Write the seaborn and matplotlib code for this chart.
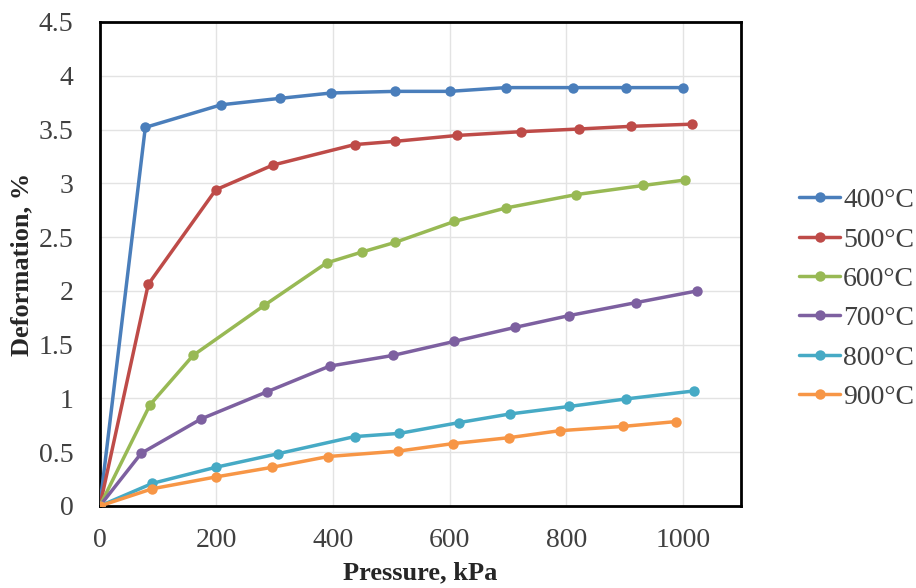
import matplotlib
matplotlib.use("Agg")
import matplotlib.pyplot as plt
import seaborn as sns
import pandas as pd

# Data
p400 = [0, 78, 208, 309, 397, 507, 600, 697, 812, 902, 1000]
d400 = [0, 3.52, 3.73, 3.79, 3.84, 3.855, 3.855, 3.89, 3.89, 3.89, 3.89]
p500 = [0, 83, 199, 297, 437, 506, 613, 722, 822, 912, 1016]
d500 = [0, 2.06, 2.94, 3.17, 3.36, 3.39, 3.445, 3.48, 3.505, 3.53, 3.55]
p600 = [0, 86, 160, 282, 389, 449, 506, 608, 696, 817, 932, 1003]
d600 = [0, 0.94, 1.40, 1.865, 2.26, 2.36, 2.45, 2.645, 2.77, 2.895, 2.98, 3.03]
p700 = [0, 71, 174, 286, 394, 503, 608, 712, 805, 919, 1025]
d700 = [0, 0.49, 0.81, 1.06, 1.30, 1.40, 1.53, 1.66, 1.77, 1.89, 2.00]
p800 = [0, 90, 199, 305, 437, 514, 616, 703, 805, 902, 1020]
d800 = [0, 0.21, 0.36, 0.485, 0.645, 0.675, 0.775, 0.855, 0.925, 0.995, 1.07]
p900 = [0, 90, 199, 296, 392, 512, 606, 702, 789, 898, 989]
d900 = [0, 0.16, 0.27, 0.36, 0.46, 0.51, 0.58, 0.635, 0.70, 0.74, 0.785]

labels = ["400°C", "500°C", "600°C", "700°C", "800°C", "900°C"]
colors = ["#4A7EBB", "#BE4B48", "#98B954", "#7D60A0", "#46AAC5", "#F79646"]
xticks = [0, 200, 400, 600, 800, 1000]
yticks = [0, 0.5, 1, 1.5, 2, 2.5, 3, 3.5, 4, 4.5]

series = [(p400, d400), (p500, d500), (p600, d600),
          (p700, d700), (p800, d800), (p900, d900)]
rows = []
for lab, (px, dy) in zip(labels, series):
    for a, b in zip(px, dy):
        rows.append({"Pressure": a, "Deformation": b, "T": lab})
df = pd.DataFrame(rows)

sns.set_style("white")
plt.rcParams["font.family"] = ["Liberation Serif", "DejaVu Serif"]

fig = plt.figure(figsize=(9.16, 5.88), dpi=100)
ax = fig.add_axes([0.109, 0.1395, 0.700, 0.8231])

sns.lineplot(data=df, x="Pressure", y="Deformation", hue="T",
             hue_order=labels, palette=colors, marker="o", markersize=7.5,
             markeredgewidth=0, linewidth=2.5, estimator=None, sort=False,
             units="T", ax=ax, zorder=3)

ax.set_xlim(0, 1100)
ax.set_ylim(0, 4.5)
ax.set_xticks(xticks)
ax.set_yticks(yticks)
ax.set_yticklabels(["%g" % v for v in yticks])
ax.grid(True, color="#E3E3E3", linewidth=1.0, zorder=0)
ax.set_axisbelow(True)
for s in ax.spines.values():
    s.set_color("black")
    s.set_linewidth(2.0)
    s.set_visible(True)
ax.tick_params(axis="both", direction="out", length=6, width=1.5,
               colors="black", labelcolor="#404040", labelsize=20)
ax.tick_params(axis="x", pad=10)
ax.tick_params(axis="y", pad=13)
ax.set_xlabel("Pressure, kPa", fontsize=19, fontweight="bold", labelpad=6)
ax.set_ylabel("Deformation, %", fontsize=19, fontweight="bold", labelpad=4)

leg = ax.legend(loc="center left", bbox_to_anchor=(1.09, 0.428), frameon=False,
                fontsize=20, handlelength=1.5, handletextpad=0.1,
                labelspacing=0.5, borderaxespad=0, borderpad=0)
for t in leg.get_texts():
    t.set_color("#404040")

fig.savefig("out.png", dpi=100)
